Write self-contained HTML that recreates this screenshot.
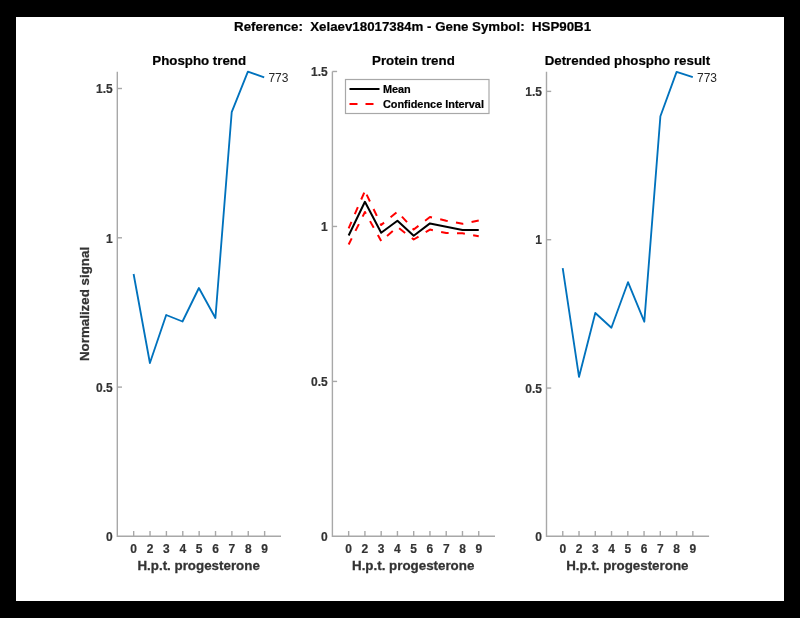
<!DOCTYPE html>
<html><head><meta charset="utf-8"><style>
html,body{margin:0;padding:0;background:#000;}
body{width:800px;height:618px;overflow:hidden;}
svg{display:block;will-change:transform;}
text{font-family:"Liberation Sans", sans-serif;}
.tk{font-size:12px;font-weight:bold;fill:#333;stroke:#333;stroke-width:0.18px;}
.lb{font-size:13.35px;font-weight:bold;fill:#333;stroke:#333;stroke-width:0.28px;}
.ti{font-size:13.3px;font-weight:bold;fill:#000;stroke:#000;stroke-width:0.2px;white-space:pre;}
.lg{font-size:10.9px;font-weight:bold;fill:#000;stroke:#000;stroke-width:0.2px;}
.ann{font-size:12px;fill:#262626;}
</style></head><body>
<svg width="800" height="618" viewBox="0 0 800 618">
<rect x="0" y="0" width="800" height="618" fill="#000"/>
<rect x="16" y="17" width="768" height="584" fill="#fff"/>
<path d="M117.3,71.65 L117.3,536.3 L281,536.3" fill="none" stroke="#a8a8a8" stroke-width="1.4" stroke-linejoin="miter"/>
<text x="112.70" y="541.00" text-anchor="end" class="tk">0</text>
<line x1="117.3" y1="387.10" x2="122.0" y2="387.10" stroke="#a8a8a8" stroke-width="1.4"/>
<text x="112.70" y="391.80" text-anchor="end" class="tk">0.5</text>
<line x1="117.3" y1="237.80" x2="122.0" y2="237.80" stroke="#a8a8a8" stroke-width="1.4"/>
<text x="112.70" y="242.50" text-anchor="end" class="tk">1</text>
<line x1="117.3" y1="88.50" x2="122.0" y2="88.50" stroke="#a8a8a8" stroke-width="1.4"/>
<text x="112.70" y="93.20" text-anchor="end" class="tk">1.5</text>
<line x1="133.67" y1="536.3" x2="133.67" y2="531.0" stroke="#a8a8a8" stroke-width="1.4"/>
<text x="133.67" y="553" text-anchor="middle" class="tk">0</text>
<line x1="150.04" y1="536.3" x2="150.04" y2="531.0" stroke="#a8a8a8" stroke-width="1.4"/>
<text x="150.04" y="553" text-anchor="middle" class="tk">2</text>
<line x1="166.41" y1="536.3" x2="166.41" y2="531.0" stroke="#a8a8a8" stroke-width="1.4"/>
<text x="166.41" y="553" text-anchor="middle" class="tk">3</text>
<line x1="182.78" y1="536.3" x2="182.78" y2="531.0" stroke="#a8a8a8" stroke-width="1.4"/>
<text x="182.78" y="553" text-anchor="middle" class="tk">4</text>
<line x1="199.15" y1="536.3" x2="199.15" y2="531.0" stroke="#a8a8a8" stroke-width="1.4"/>
<text x="199.15" y="553" text-anchor="middle" class="tk">5</text>
<line x1="215.52" y1="536.3" x2="215.52" y2="531.0" stroke="#a8a8a8" stroke-width="1.4"/>
<text x="215.52" y="553" text-anchor="middle" class="tk">6</text>
<line x1="231.89" y1="536.3" x2="231.89" y2="531.0" stroke="#a8a8a8" stroke-width="1.4"/>
<text x="231.89" y="553" text-anchor="middle" class="tk">7</text>
<line x1="248.26" y1="536.3" x2="248.26" y2="531.0" stroke="#a8a8a8" stroke-width="1.4"/>
<text x="248.26" y="553" text-anchor="middle" class="tk">8</text>
<line x1="264.63" y1="536.3" x2="264.63" y2="531.0" stroke="#a8a8a8" stroke-width="1.4"/>
<text x="264.63" y="553" text-anchor="middle" class="tk">9</text>
<text x="198.65" y="570.2" text-anchor="middle" class="lb">H.p.t. progesterone</text>
<polyline points="133.6,274 149.9,363 166.2,315 182.5,321.5 198.9,288 215.4,318 231.7,112.2 247.9,71.7 264.2,77.3" fill="none" stroke="#0072bd" stroke-width="1.85" stroke-linejoin="round"/>
<text x="268.4" y="82" class="ann">773</text>
<text x="199.2" y="65.1" text-anchor="middle" class="ti">Phospho trend</text>
<text transform="translate(89.1,304) rotate(-90)" text-anchor="middle" class="lb">Normalized signal</text>
<path d="M332.4,71.5 L332.4,536.3 L495,536.3" fill="none" stroke="#a8a8a8" stroke-width="1.4" stroke-linejoin="miter"/>
<text x="327.80" y="541.00" text-anchor="end" class="tk">0</text>
<line x1="332.4" y1="381.42" x2="337.09999999999997" y2="381.42" stroke="#a8a8a8" stroke-width="1.4"/>
<text x="327.80" y="386.12" text-anchor="end" class="tk">0.5</text>
<line x1="332.4" y1="226.45" x2="337.09999999999997" y2="226.45" stroke="#a8a8a8" stroke-width="1.4"/>
<text x="327.80" y="231.15" text-anchor="end" class="tk">1</text>
<line x1="332.4" y1="71.48" x2="337.09999999999997" y2="71.48" stroke="#a8a8a8" stroke-width="1.4"/>
<text x="327.80" y="76.18" text-anchor="end" class="tk">1.5</text>
<line x1="348.66" y1="536.3" x2="348.66" y2="531.0" stroke="#a8a8a8" stroke-width="1.4"/>
<text x="348.66" y="553" text-anchor="middle" class="tk">0</text>
<line x1="364.92" y1="536.3" x2="364.92" y2="531.0" stroke="#a8a8a8" stroke-width="1.4"/>
<text x="364.92" y="553" text-anchor="middle" class="tk">2</text>
<line x1="381.18" y1="536.3" x2="381.18" y2="531.0" stroke="#a8a8a8" stroke-width="1.4"/>
<text x="381.18" y="553" text-anchor="middle" class="tk">3</text>
<line x1="397.44" y1="536.3" x2="397.44" y2="531.0" stroke="#a8a8a8" stroke-width="1.4"/>
<text x="397.44" y="553" text-anchor="middle" class="tk">4</text>
<line x1="413.70" y1="536.3" x2="413.70" y2="531.0" stroke="#a8a8a8" stroke-width="1.4"/>
<text x="413.70" y="553" text-anchor="middle" class="tk">5</text>
<line x1="429.96" y1="536.3" x2="429.96" y2="531.0" stroke="#a8a8a8" stroke-width="1.4"/>
<text x="429.96" y="553" text-anchor="middle" class="tk">6</text>
<line x1="446.22" y1="536.3" x2="446.22" y2="531.0" stroke="#a8a8a8" stroke-width="1.4"/>
<text x="446.22" y="553" text-anchor="middle" class="tk">7</text>
<line x1="462.48" y1="536.3" x2="462.48" y2="531.0" stroke="#a8a8a8" stroke-width="1.4"/>
<text x="462.48" y="553" text-anchor="middle" class="tk">8</text>
<line x1="478.74" y1="536.3" x2="478.74" y2="531.0" stroke="#a8a8a8" stroke-width="1.4"/>
<text x="478.74" y="553" text-anchor="middle" class="tk">9</text>
<text x="413.20" y="570.2" text-anchor="middle" class="lb">H.p.t. progesterone</text>
<path d="M348.66,228.30 L351.46,221.88 M354.81,214.18 L357.85,207.22 M361.21,199.52 L364.24,192.55 M366.65,194.62 L369.93,201.47 M373.55,209.05 L376.83,215.91 M380.46,223.49 L381.18,225.00 L384.06,222.64 M390.56,217.33 L396.45,212.51 M401.90,216.58 L407.03,222.20 M412.69,228.40 L413.70,229.50 L418.46,225.84 M425.12,220.72 L429.96,217.00 L432.00,217.47 M440.20,219.33 L446.22,220.70 L447.71,220.98 M455.97,222.56 L462.48,223.80 L463.33,223.62 M471.55,221.90 L478.74,220.40" fill="none" stroke="#ff0000" stroke-width="2" stroke-linejoin="round"/>
<path d="M348.66,244.50 L351.70,238.42 M355.46,230.91 L358.86,224.11 M362.62,216.60 L364.92,212.00 L365.93,213.80 M370.04,221.12 L373.75,227.75 M377.86,235.08 L381.18,241.00 M387.02,235.97 L392.78,231.01 M399.15,228.31 L405.17,232.95 M411.83,238.07 L413.70,239.50 L418.52,236.56 M425.70,232.20 L429.96,229.60 L432.91,230.22 M441.13,231.94 L446.22,233.00 L448.62,233.04 M457.02,233.20 L462.48,233.30 L464.88,233.73 M473.15,235.20 L478.74,236.20" fill="none" stroke="#ff0000" stroke-width="2" stroke-linejoin="round"/>
<polyline points="348.66,235.5 364.92,201.8 381.18,232.8 397.44,220.7 413.70,235.7 429.96,223.4 446.22,226.7 462.48,229.9 478.74,229.9" fill="none" stroke="#000" stroke-width="2" stroke-linejoin="round"/>
<text x="413.4" y="65.1" text-anchor="middle" class="ti">Protein trend</text>
<rect x="345.5" y="79.5" width="143.5" height="34" fill="#fff" stroke="#a8a8a8" stroke-width="1.2"/>
<line x1="349.5" y1="89" x2="379.5" y2="89" stroke="#000" stroke-width="2" stroke-linejoin="round"/>
<line x1="349.5" y1="104" x2="379.5" y2="104" stroke="#ff0000" stroke-width="2" stroke-dasharray="8 8"/>
<text x="382.9" y="92.8" class="lg">Mean</text>
<text x="382.9" y="107.8" class="lg">Confidence Interval</text>
<path d="M546.5,71.65 L546.5,536.3 L709.1,536.3" fill="none" stroke="#a8a8a8" stroke-width="1.4" stroke-linejoin="miter"/>
<text x="541.90" y="541.00" text-anchor="end" class="tk">0</text>
<line x1="546.5" y1="388.06" x2="551.2" y2="388.06" stroke="#a8a8a8" stroke-width="1.4"/>
<text x="541.90" y="392.76" text-anchor="end" class="tk">0.5</text>
<line x1="546.5" y1="239.73" x2="551.2" y2="239.73" stroke="#a8a8a8" stroke-width="1.4"/>
<text x="541.90" y="244.43" text-anchor="end" class="tk">1</text>
<line x1="546.5" y1="91.39" x2="551.2" y2="91.39" stroke="#a8a8a8" stroke-width="1.4"/>
<text x="541.90" y="96.09" text-anchor="end" class="tk">1.5</text>
<line x1="562.76" y1="536.3" x2="562.76" y2="531.0" stroke="#a8a8a8" stroke-width="1.4"/>
<text x="562.76" y="553" text-anchor="middle" class="tk">0</text>
<line x1="579.02" y1="536.3" x2="579.02" y2="531.0" stroke="#a8a8a8" stroke-width="1.4"/>
<text x="579.02" y="553" text-anchor="middle" class="tk">2</text>
<line x1="595.28" y1="536.3" x2="595.28" y2="531.0" stroke="#a8a8a8" stroke-width="1.4"/>
<text x="595.28" y="553" text-anchor="middle" class="tk">3</text>
<line x1="611.54" y1="536.3" x2="611.54" y2="531.0" stroke="#a8a8a8" stroke-width="1.4"/>
<text x="611.54" y="553" text-anchor="middle" class="tk">4</text>
<line x1="627.80" y1="536.3" x2="627.80" y2="531.0" stroke="#a8a8a8" stroke-width="1.4"/>
<text x="627.80" y="553" text-anchor="middle" class="tk">5</text>
<line x1="644.06" y1="536.3" x2="644.06" y2="531.0" stroke="#a8a8a8" stroke-width="1.4"/>
<text x="644.06" y="553" text-anchor="middle" class="tk">6</text>
<line x1="660.32" y1="536.3" x2="660.32" y2="531.0" stroke="#a8a8a8" stroke-width="1.4"/>
<text x="660.32" y="553" text-anchor="middle" class="tk">7</text>
<line x1="676.58" y1="536.3" x2="676.58" y2="531.0" stroke="#a8a8a8" stroke-width="1.4"/>
<text x="676.58" y="553" text-anchor="middle" class="tk">8</text>
<line x1="692.84" y1="536.3" x2="692.84" y2="531.0" stroke="#a8a8a8" stroke-width="1.4"/>
<text x="692.84" y="553" text-anchor="middle" class="tk">9</text>
<text x="627.30" y="570.2" text-anchor="middle" class="lb">H.p.t. progesterone</text>
<polyline points="562.7,268.1 579,376.9 595.3,313 611.4,327.7 628,282.2 644.3,321.7 660.4,116.3 676.6,71.9 692.8,77.2" fill="none" stroke="#0072bd" stroke-width="1.85" stroke-linejoin="round"/>
<text x="697" y="82" class="ann">773</text>
<text x="627.4" y="65.1" text-anchor="middle" class="ti">Detrended phospho result</text>
<text x="412.6" y="30.8" text-anchor="middle" class="ti" xml:space="preserve">Reference:  Xelaev18017384m - Gene Symbol:  HSP90B1</text>
</svg>
</body></html>
